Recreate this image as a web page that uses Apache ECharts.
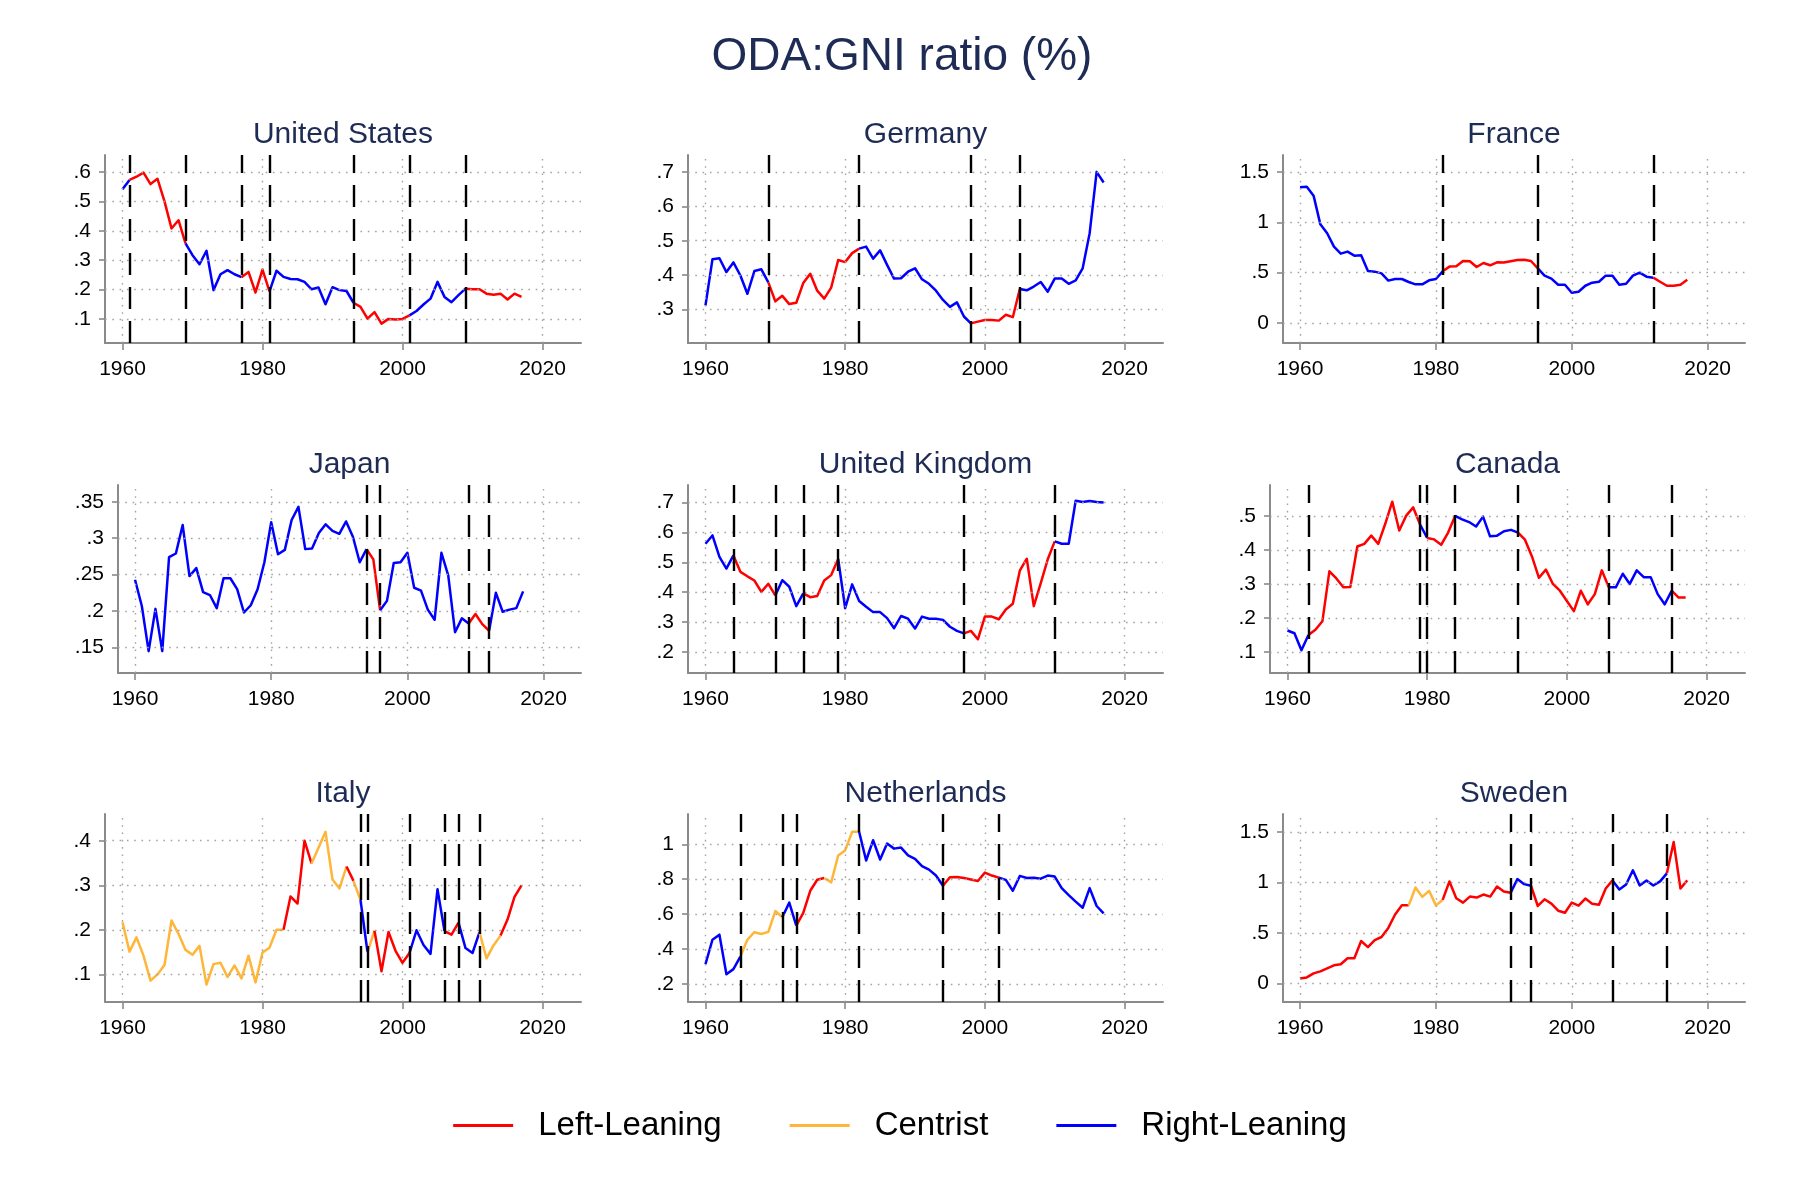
<!DOCTYPE html>
<html><head><meta charset="utf-8">
<script src="https://cdn.jsdelivr.net/npm/echarts@6/dist/echarts.min.js"></script>
<style>html,body{margin:0;padding:0;background:#fff}#c{width:1800px;height:1200px}</style>
</head><body><div id="c"></div>
<script>
const firstYear = 1960;
const lastYear = 2017;
const xTicks = [1960, 1980, 2000, 2020];

// ---- United States
const usValues = [0.541,0.573,0.584,0.598,0.559,0.577,0.50,0.408,0.436,0.357,0.317,0.286,0.332,0.198,0.252,0.266,0.252,0.242,0.26,0.19,0.268,0.194,0.264,0.243,0.236,0.235,0.226,0.201,0.207,0.15,0.208,0.198,0.195,0.155,0.141,0.101,0.123,0.084,0.10,0.098,0.10,0.112,0.127,0.149,0.169,0.226,0.175,0.157,0.181,0.203,0.201,0.201,0.186,0.182,0.186,0.166,0.186,0.175];
const usGov = [[1960,'R'],[1961,'L'],[1969,'R'],[1977,'L'],[1981,'R'],[1993,'L'],[2001,'R'],[2009,'L']];
const usBreaks = [1961,1969,1977,1981,1993,2001,2009];
const usTicks = [0.1,0.2,0.3,0.4,0.5,0.6];

// ---- Germany
const deValues = [0.312,0.446,0.449,0.409,0.437,0.399,0.346,0.412,0.417,0.379,0.324,0.34,0.316,0.32,0.377,0.404,0.355,0.332,0.364,0.444,0.438,0.464,0.477,0.483,0.448,0.472,0.43,0.39,0.391,0.41,0.42,0.388,0.375,0.355,0.328,0.308,0.321,0.28,0.26,0.265,0.27,0.27,0.268,0.285,0.278,0.36,0.356,0.367,0.38,0.352,0.39,0.39,0.375,0.385,0.42,0.522,0.70,0.669];
const deGov = [[1960,'R'],[1969,'L'],[1982,'R'],[1998,'L'],[2005,'R']];
const deBreaks = [1969,1982,1998,2005];
const deTicks = [0.3,0.4,0.5,0.6,0.7];

// ---- France
const frValues = [1.348,1.354,1.265,0.98,0.891,0.758,0.689,0.709,0.669,0.672,0.517,0.51,0.493,0.421,0.437,0.437,0.407,0.384,0.384,0.424,0.437,0.513,0.56,0.563,0.616,0.613,0.556,0.596,0.573,0.603,0.60,0.613,0.626,0.629,0.616,0.543,0.47,0.44,0.38,0.38,0.30,0.31,0.37,0.40,0.41,0.47,0.47,0.38,0.39,0.47,0.50,0.46,0.45,0.41,0.37,0.37,0.38,0.43];
const frGov = [[1960,'R'],[1981,'L'],[1995,'R'],[2012,'L']];
const frBreaks = [1981,1995,2012];
const frTicks = [0,0.5,1,1.5];

// ---- Japan
const jpValues = [0.243,0.207,0.145,0.203,0.145,0.274,0.279,0.318,0.248,0.259,0.226,0.222,0.204,0.245,0.245,0.23,0.198,0.208,0.23,0.267,0.322,0.278,0.284,0.325,0.343,0.285,0.286,0.307,0.319,0.31,0.306,0.323,0.302,0.267,0.285,0.271,0.201,0.214,0.266,0.267,0.28,0.232,0.228,0.202,0.188,0.28,0.249,0.171,0.19,0.183,0.196,0.182,0.173,0.225,0.199,0.202,0.204,0.227];
const jpGov = [[1960,'R'],[1994,'L'],[1996,'R'],[2009,'L'],[2012,'R']];
const jpBreaks = [1994,1996,2009,2012];
const jpTicks = [0.15,0.2,0.25,0.3,0.35];

// ---- United Kingdom
const ukValues = [0.562,0.59,0.518,0.479,0.523,0.468,0.453,0.439,0.401,0.428,0.389,0.44,0.418,0.353,0.396,0.383,0.387,0.439,0.457,0.511,0.346,0.426,0.37,0.351,0.333,0.333,0.313,0.279,0.32,0.311,0.278,0.318,0.311,0.311,0.307,0.284,0.27,0.262,0.27,0.242,0.318,0.318,0.309,0.342,0.361,0.472,0.512,0.353,0.43,0.51,0.57,0.562,0.562,0.706,0.702,0.705,0.702,0.70];
const ukGov = [[1960,'R'],[1964,'L'],[1970,'R'],[1974,'L'],[1979,'R'],[1997,'L'],[2010,'R']];
const ukBreaks = [1964,1970,1974,1979,1997,2010];
const ukTicks = [0.2,0.3,0.4,0.5,0.6,0.7];

// ---- Canada
const caValues = [0.163,0.155,0.105,0.15,0.165,0.19,0.337,0.316,0.29,0.291,0.41,0.418,0.442,0.418,0.477,0.542,0.457,0.501,0.525,0.474,0.435,0.431,0.415,0.451,0.50,0.49,0.482,0.469,0.498,0.44,0.442,0.455,0.459,0.451,0.43,0.381,0.318,0.342,0.30,0.28,0.25,0.22,0.28,0.24,0.27,0.34,0.29,0.29,0.33,0.30,0.34,0.32,0.32,0.27,0.24,0.28,0.26,0.26];
const caGov = [[1960,'R'],[1963,'L'],[1979,'R'],[1980,'L'],[1984,'R'],[1993,'L'],[2006,'R'],[2015,'L']];
const caBreaks = [1963,1979,1980,1984,1993,2006,2015];
const caTicks = [0.1,0.2,0.3,0.4,0.5];

// ---- Italy
const itValues = [0.217,0.151,0.183,0.142,0.086,0.10,0.121,0.221,0.191,0.155,0.144,0.164,0.077,0.123,0.126,0.094,0.12,0.091,0.142,0.082,0.149,0.16,0.20,0.20,0.275,0.259,0.40,0.349,0.384,0.42,0.313,0.293,0.342,0.31,0.267,0.15,0.198,0.107,0.195,0.153,0.126,0.148,0.199,0.166,0.146,0.291,0.197,0.189,0.216,0.159,0.148,0.195,0.136,0.165,0.187,0.223,0.274,0.30];
const itGov = [[1960,'C'],[1983,'L'],[1987,'C'],[1992,'L'],[1993,'C'],[1994,'R'],[1995,'C'],[1996,'L'],[2001,'R'],[2006,'L'],[2008,'R'],[2011,'C'],[2014,'L']];
const itBreaks = [1994,1995,2001,2006,2008,2011];
const itTicks = [0.1,0.2,0.3,0.4];

// ---- Netherlands
const nlValues = [0.315,0.454,0.483,0.257,0.286,0.358,0.454,0.497,0.487,0.499,0.618,0.583,0.666,0.535,0.608,0.734,0.797,0.807,0.782,0.936,0.965,1.071,1.071,0.907,1.023,0.913,1.004,0.975,0.981,0.936,0.917,0.875,0.855,0.821,0.763,0.811,0.813,0.807,0.799,0.79,0.838,0.821,0.809,0.796,0.734,0.819,0.807,0.809,0.803,0.821,0.815,0.749,0.709,0.672,0.637,0.749,0.647,0.605];
const nlGov = [[1960,'R'],[1965,'C'],[1971,'R'],[1973,'L'],[1977,'C'],[1982,'R'],[1994,'L'],[2002,'R']];
const nlBreaks = [1965,1971,1973,1982,1994,2002];
const nlTicks = [0.2,0.4,0.6,0.8,1];

// ---- Sweden
const seValues = [0.05,0.06,0.10,0.12,0.15,0.18,0.19,0.25,0.25,0.42,0.36,0.43,0.46,0.55,0.683,0.773,0.773,0.95,0.857,0.917,0.773,0.827,1.01,0.843,0.80,0.86,0.85,0.88,0.86,0.96,0.91,0.897,1.033,0.983,0.967,0.767,0.833,0.79,0.72,0.70,0.80,0.77,0.84,0.79,0.78,0.94,1.02,0.93,0.98,1.12,0.97,1.02,0.97,1.01,1.09,1.40,0.94,1.02];
const seGov = [[1960,'L'],[1976,'C'],[1981,'L'],[1991,'R'],[1994,'L'],[2006,'R'],[2014,'L']];
const seBreaks = [1991,1994,2006,2014];
const seTicks = [0,0.5,1,1.5];

const mainTitle = 'ODA:GNI ratio (%)';
const partyKeys = ['L','C','R'];
const partyNames = {L:'Left-Leaning', C:'Centrist', R:'Right-Leaning'};

// ---- layout / style
const partyColors = {L:'#FF0000', C:'#FFB638', R:'#0000FF'};
const FONT = '"Liberation Sans", Arial, Helvetica, sans-serif';
const TITLE_COLOR = '#1d2b55';
const colRight = [581, 1163, 1745];
const rowTop = [155, 485, 814];
const panelH = 188;
const xMin = 1957.5, xMax = 2025.5;

const panels = [
  {title:'United States', values:usValues, gov:usGov, breaks:usBreaks, ticks:usTicks, yMin:0.018, yMax:0.658, left:105, row:0, col:0},
  {title:'Germany', values:deValues, gov:deGov, breaks:deBreaks, ticks:deTicks, yMin:0.203, yMax:0.749, left:688, row:0, col:1},
  {title:'France', values:frValues, gov:frGov, breaks:frBreaks, ticks:frTicks, yMin:-0.199, yMax:1.669, left:1283, row:0, col:2},
  {title:'Japan', values:jpValues, gov:jpGov, breaks:jpBreaks, ticks:jpTicks, yMin:0.115, yMax:0.373, left:118, row:1, col:0},
  {title:'United Kingdom', values:ukValues, gov:ukGov, breaks:ukBreaks, ticks:ukTicks, yMin:0.129, yMax:0.759, left:688, row:1, col:1},
  {title:'Canada', values:caValues, gov:caGov, breaks:caBreaks, ticks:caTicks, yMin:0.038, yMax:0.591, left:1270, row:1, col:2},
  {title:'Italy', values:itValues, gov:itGov, breaks:itBreaks, ticks:itTicks, yMin:0.038, yMax:0.46, left:105, row:2, col:0},
  {title:'Netherlands', values:nlValues, gov:nlGov, breaks:nlBreaks, ticks:nlTicks, yMin:0.098, yMax:1.173, left:688, row:2, col:1},
  {title:'Sweden', values:seValues, gov:seGov, breaks:seBreaks, ticks:seTicks, yMin:-0.183, yMax:1.677, left:1283, row:2, col:2}
];

function fmtY(v){
  let s = String(+(+v).toFixed(2));
  if (s.startsWith('0.')) s = s.slice(1);
  if (s.startsWith('-0.')) s = '-' + s.slice(2);
  return s;
}

const grids = [], xAxes = [], yAxes = [], series = [];
const titles = [{
  text: mainTitle, left: 902, top: 57, textAlign: 'center', textVerticalAlign: 'middle', padding: 0,
  textStyle: {fontFamily: FONT, fontSize: 46, fontWeight: 'normal', color: TITLE_COLOR}
}];
const axisGray = '#8a8a8a';

panels.forEach((p, i) => {
  const right = colRight[p.col];
  const top = rowTop[p.row];
  grids.push({left: p.left, top: top, width: right - p.left, height: panelH});
  titles.push({
    text: p.title, left: (p.left + right) / 2, top: top - 20, textAlign: 'center', textVerticalAlign: 'middle', padding: 0,
    textStyle: {fontFamily: FONT, fontSize: 30, fontWeight: 'normal', color: TITLE_COLOR}
  });
  xAxes.push({
    type: 'value', gridIndex: i, min: xMin, max: xMax,
    axisLine: {show: true, onZero: false, lineStyle: {color: axisGray, width: 2}},
    axisTick: {show: true, customValues: xTicks, length: 7, lineStyle: {color: axisGray, width: 1.6}},
    axisLabel: {show: true, customValues: xTicks, margin: 16, fontSize: 21, fontFamily: FONT, color: '#000', formatter: v => String(v)},
    splitLine: {show: false}
  });
  yAxes.push({
    type: 'value', gridIndex: i, min: p.yMin, max: p.yMax,
    axisLine: {show: true, onZero: false, lineStyle: {color: axisGray, width: 2}},
    axisTick: {show: true, customValues: p.ticks, length: 6, lineStyle: {color: axisGray, width: 1.6}},
    axisLabel: {show: true, customValues: p.ticks, margin: 14, fontSize: 21, fontFamily: FONT, color: '#000', formatter: fmtY},
    splitLine: {show: false}
  });
  // dotted grid lines at tick values
  series.push({
    type: 'line', xAxisIndex: i, yAxisIndex: i, data: [], silent: true, z: 1, animation: false,
    markLine: {
      silent: true, symbol: ['none', 'none'], animation: false, label: {show: false}, emphasis: {disabled: true},
      lineStyle: {color: '#a3a3a3', width: 1.4, type: [1.6, 5.7]},
      data: p.ticks.map(v => ({yAxis: v})).concat(xTicks.map(v => ({xAxis: v})))
    }
  });
  // dashed change-of-government lines
  series.push({
    type: 'line', xAxisIndex: i, yAxisIndex: i, data: [], silent: true, z: 2, animation: false,
    markLine: {
      silent: true, symbol: ['none', 'none'], animation: false, label: {show: false}, emphasis: {disabled: true},
      lineStyle: {color: '#000', width: 2.4, type: [22, 12]},
      data: p.breaks.map(v => ({xAxis: v}))
    }
  });
  // coloured segments
  p.gov.forEach((g, k) => {
    const start = g[0];
    const end = k + 1 < p.gov.length ? p.gov[k + 1][0] : lastYear;
    const data = [];
    for (let y = start; y <= end; y++) data.push([y, p.values[y - firstYear]]);
    const color = partyColors[g[1]];
    series.push({
      type: 'line', name: partyNames[g[1]], xAxisIndex: i, yAxisIndex: i, data: data,
      showSymbol: false, symbol: 'none', z: 3, animation: false, silent: true,
      lineStyle: {color: color, width: 2.5, join: 'round'}, itemStyle: {color: color},
      emphasis: {disabled: true}
    });
  });
});

const chart = echarts.init(document.getElementById('c'), null, {renderer: 'canvas'});
chart.setOption({
  backgroundColor: '#fff',
  animation: false,
  title: titles,
  grid: grids,
  xAxis: xAxes,
  yAxis: yAxes,
  legend: {
    data: partyKeys.map(k => ({name: partyNames[k], itemStyle: {color: partyColors[k]}})),
    left: 'center', top: 1109, padding: 0,
    icon: 'rect', itemWidth: 60, itemHeight: 3, itemGap: 68,
    selectedMode: false,
    textStyle: {fontFamily: FONT, fontSize: 33, color: '#000', padding: [0, 0, 0, 20]}
  },
  series: series
});
</script></body></html>
